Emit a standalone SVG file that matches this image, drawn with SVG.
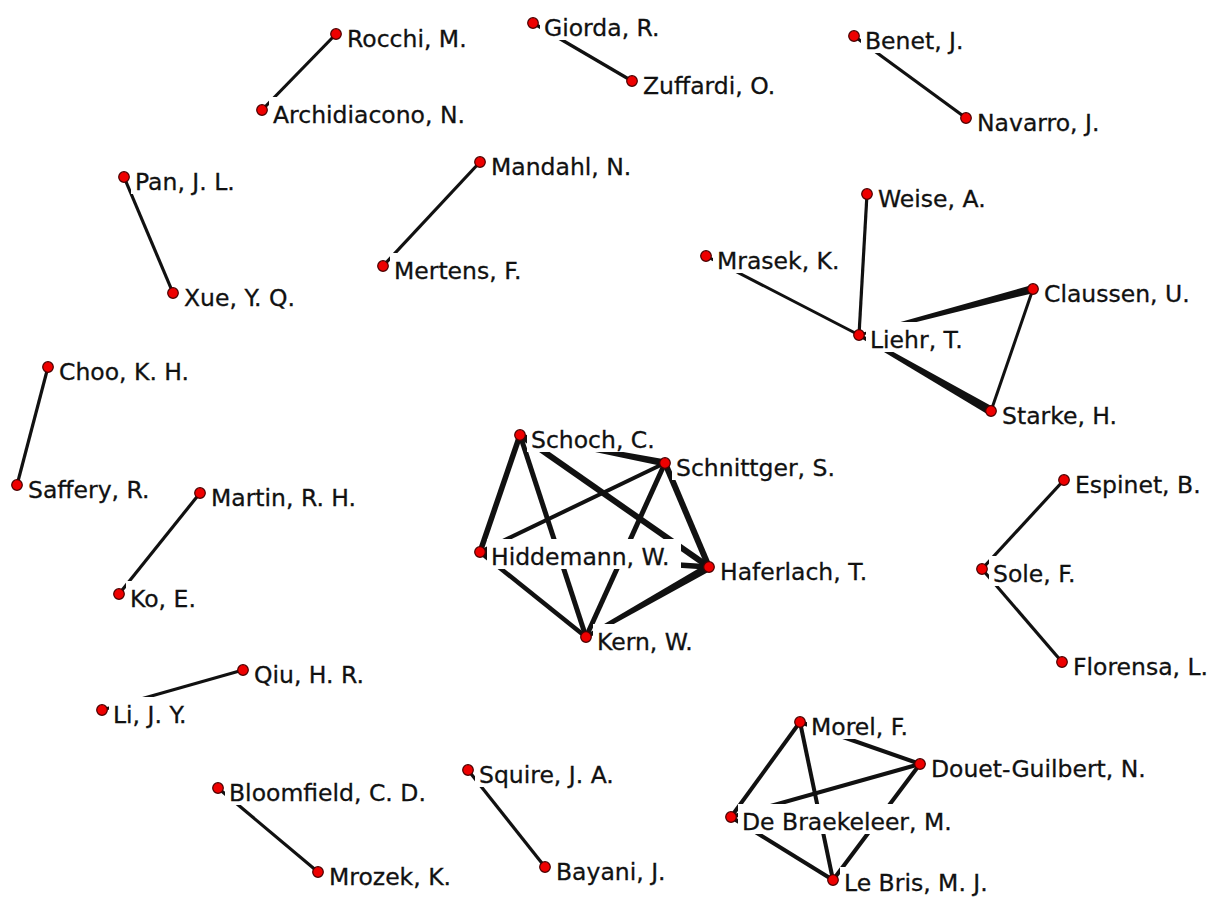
<svg xmlns="http://www.w3.org/2000/svg" width="1219" height="897" viewBox="0 0 1219 897">
<style>
.e{stroke:#111;fill:none;stroke-linecap:butt}
.w{fill:#111;stroke:none}
.lb{fill:#fff}
.t{font-family:"DejaVu Sans",Verdana,sans-serif;font-size:23.5px;fill:#111;stroke:#111;stroke-width:0.3}
.n{fill:#ee0000;stroke:#4a0000;stroke-width:1.2}
</style>
<rect width="1219" height="897" fill="#fff"/>
<g id="connectors">
<line class="e" stroke-width="3.2" x1="336" y1="34" x2="262" y2="110"/>
<line class="e" stroke-width="3.2" x1="533" y1="23" x2="632" y2="81"/>
<line class="e" stroke-width="3.2" x1="854" y1="36" x2="966" y2="118"/>
<line class="e" stroke-width="3.2" x1="124" y1="177" x2="173" y2="293"/>
<line class="e" stroke-width="3.2" x1="480" y1="162" x2="383" y2="266"/>
<line class="e" stroke-width="3.2" x1="48" y1="367" x2="17" y2="485"/>
<line class="e" stroke-width="3.2" x1="200" y1="493" x2="119" y2="594"/>
<line class="e" stroke-width="3.2" x1="243" y1="670" x2="102" y2="710"/>
<line class="e" stroke-width="3.2" x1="218" y1="788" x2="318" y2="872"/>
<line class="e" stroke-width="3.2" x1="468" y1="770" x2="545" y2="867"/>
<line class="e" stroke-width="3.2" x1="1064" y1="480" x2="982" y2="569"/>
<line class="e" stroke-width="3.2" x1="982" y1="569" x2="1062" y2="662"/>
<line class="e" stroke-width="3.2" x1="867" y1="194" x2="859" y2="335"/>
<line class="e" stroke-width="3" x1="706" y1="256" x2="859" y2="335"/>
<line class="e" stroke-width="3" x1="1033" y1="289" x2="991" y2="411"/>
<polygon class="w" points="859.3,336.2 1034,292.9 1032,285.1 858.7,333.8"/>
<polygon class="w" points="858.2,336.5 859.8,333.5 993.2,407.1 988.8,414.9"/>
<polygon class="w" points="519.8,436.2 520.2,433.8 665.7,459.6 664.3,466.4"/>
<line class="e" stroke-width="5.5" x1="520" y1="435" x2="480" y2="552"/>
<line class="e" stroke-width="5" x1="520" y1="435" x2="586" y2="637"/>
<line class="e" stroke-width="6" x1="520" y1="435" x2="709" y2="567"/>
<line class="e" stroke-width="4" x1="665" y1="463" x2="480" y2="552"/>
<line class="e" stroke-width="5" x1="665" y1="463" x2="586" y2="637"/>
<line class="e" stroke-width="6" x1="665" y1="463" x2="709" y2="567"/>
<line class="e" stroke-width="4.5" x1="480" y1="552" x2="586" y2="637"/>
<line class="e" stroke-width="5.5" x1="480" y1="552" x2="709" y2="567"/>
<polygon class="w" points="587,638.7 711,570.5 707,563.5 585,635.3"/>
<line class="e" stroke-width="4" x1="800" y1="722" x2="920" y2="764"/>
<line class="e" stroke-width="4" x1="800" y1="722" x2="731" y2="817"/>
<line class="e" stroke-width="4" x1="800" y1="722" x2="833" y2="880"/>
<line class="e" stroke-width="4" x1="920" y1="764" x2="731" y2="817"/>
<line class="e" stroke-width="4" x1="920" y1="764" x2="833" y2="880"/>
<line class="e" stroke-width="4" x1="731" y1="817" x2="833" y2="880"/>
</g>
<g id="n-rocchi" transform="translate(336,34)"><rect class="lb" x="7" y="-13" width="127" height="30"/><circle class="n" r="5.3"/><text class="t" x="11" y="13">Rocchi, M.</text></g>
<g id="n-archidiacono" transform="translate(262,110)"><rect class="lb" x="7" y="-13" width="199" height="30"/><circle class="n" r="5.3"/><text class="t" x="11" y="13">Archidiacono, N.</text></g>
<g id="n-giorda" transform="translate(533,23)"><rect class="lb" x="7" y="-13" width="123" height="30"/><circle class="n" r="5.3"/><text class="t" x="11" y="13">Giorda, R.</text></g>
<g id="n-zuffardi" transform="translate(632,81)"><rect class="lb" x="7" y="-13" width="140" height="30"/><circle class="n" r="5.3"/><text class="t" x="11" y="13">Zuffardi, O.</text></g>
<g id="n-benet" transform="translate(854,36)"><rect class="lb" x="7" y="-13" width="105" height="30"/><circle class="n" r="5.3"/><text class="t" x="11" y="13">Benet, J.</text></g>
<g id="n-navarro" transform="translate(966,118)"><rect class="lb" x="7" y="-13" width="129" height="30"/><circle class="n" r="5.3"/><text class="t" x="11" y="13">Navarro, J.</text></g>
<g id="n-pan" transform="translate(124,177)"><rect class="lb" x="7" y="-13" width="107" height="30"/><circle class="n" r="5.3"/><text class="t" x="11" y="13">Pan, J. L.</text></g>
<g id="n-xue" transform="translate(173,293)"><rect class="lb" x="7" y="-13" width="122" height="30"/><circle class="n" r="5.3"/><text class="t" x="11" y="13">Xue, Y. Q.</text></g>
<g id="n-mandahl" transform="translate(480,162)"><rect class="lb" x="7" y="-13" width="146" height="30"/><circle class="n" r="5.3"/><text class="t" x="11" y="13">Mandahl, N.</text></g>
<g id="n-mertens" transform="translate(383,266)"><rect class="lb" x="7" y="-13" width="137" height="30"/><circle class="n" r="5.3"/><text class="t" x="11" y="13">Mertens, F.</text></g>
<g id="n-weise" transform="translate(867,194)"><rect class="lb" x="7" y="-13" width="115" height="30"/><circle class="n" r="5.3"/><text class="t" x="11" y="13">Weise, A.</text></g>
<g id="n-mrasek" transform="translate(706,256)"><rect class="lb" x="7" y="-13" width="129" height="30"/><circle class="n" r="5.3"/><text class="t" x="11" y="13">Mrasek, K.</text></g>
<g id="n-claussen" transform="translate(1033,289)"><rect class="lb" x="7" y="-13" width="152" height="30"/><circle class="n" r="5.3"/><text class="t" x="11" y="13">Claussen, U.</text></g>
<g id="n-liehr" transform="translate(859,335)"><rect class="lb" x="7" y="-13" width="101" height="30"/><circle class="n" r="5.3"/><text class="t" x="11" y="13">Liehr, T.</text></g>
<g id="n-starke" transform="translate(991,411)"><rect class="lb" x="7" y="-13" width="122" height="30"/><circle class="n" r="5.3"/><text class="t" x="11" y="13">Starke, H.</text></g>
<g id="n-choo" transform="translate(48,367)"><rect class="lb" x="7" y="-13" width="137" height="30"/><circle class="n" r="5.3"/><text class="t" x="11" y="13">Choo, K. H.</text></g>
<g id="n-saffery" transform="translate(17,485)"><rect class="lb" x="7" y="-13" width="129" height="30"/><circle class="n" r="5.3"/><text class="t" x="11" y="13">Saffery, R.</text></g>
<g id="n-martin" transform="translate(200,493)"><rect class="lb" x="7" y="-13" width="152" height="30"/><circle class="n" r="5.3"/><text class="t" x="11" y="13">Martin, R. H.</text></g>
<g id="n-ko" transform="translate(119,594)"><rect class="lb" x="7" y="-13" width="73" height="30"/><circle class="n" r="5.3"/><text class="t" x="11" y="13">Ko, E.</text></g>
<g id="n-schoch" transform="translate(520,435)"><rect class="lb" x="7" y="-13" width="130" height="30"/><circle class="n" r="5.3"/><text class="t" x="11" y="13">Schoch, C.</text></g>
<g id="n-schnittger" transform="translate(665,463)"><rect class="lb" x="7" y="-13" width="165" height="30"/><circle class="n" r="5.3"/><text class="t" x="11" y="13">Schnittger, S.</text></g>
<g id="n-hiddemann" transform="translate(480,552)"><rect class="lb" x="7" y="-13" width="194" height="30"/><circle class="n" r="5.3"/><text class="t" x="11" y="13">Hiddemann, W.</text></g>
<g id="n-haferlach" transform="translate(709,567)"><rect class="lb" x="7" y="-13" width="156" height="30"/><circle class="n" r="5.3"/><text class="t" x="11" y="13">Haferlach, T.</text></g>
<g id="n-kern" transform="translate(586,637)"><rect class="lb" x="7" y="-13" width="106" height="30"/><circle class="n" r="5.3"/><text class="t" x="11" y="13">Kern, W.</text></g>
<g id="n-espinet" transform="translate(1064,480)"><rect class="lb" x="7" y="-13" width="132" height="30"/><circle class="n" r="5.3"/><text class="t" x="11" y="13">Espinet, B.</text></g>
<g id="n-sole" transform="translate(982,569)"><rect class="lb" x="7" y="-13" width="92" height="30"/><circle class="n" r="5.3"/><text class="t" x="11" y="13">Sole, F.</text></g>
<g id="n-florensa" transform="translate(1062,662)"><rect class="lb" x="7" y="-13" width="142" height="30"/><circle class="n" r="5.3"/><text class="t" x="11" y="13">Florensa, L.</text></g>
<g id="n-qiu" transform="translate(243,670)"><rect class="lb" x="7" y="-13" width="117" height="30"/><circle class="n" r="5.3"/><text class="t" x="11" y="13">Qiu, H. R.</text></g>
<g id="n-li" transform="translate(102,710)"><rect class="lb" x="7" y="-13" width="84" height="30"/><circle class="n" r="5.3"/><text class="t" x="11" y="13">Li, J. Y.</text></g>
<g id="n-morel" transform="translate(800,722)"><rect class="lb" x="7" y="-13" width="107" height="30"/><circle class="n" r="5.3"/><text class="t" x="11" y="13">Morel, F.</text></g>
<g id="n-douet" transform="translate(920,764)"><rect class="lb" x="7" y="-13" width="220" height="30"/><circle class="n" r="5.3"/><text class="t" x="11" y="13">Douet-Guilbert, N.</text></g>
<g id="n-debraekeleer" transform="translate(731,817)"><rect class="lb" x="7" y="-13" width="217" height="30"/><circle class="n" r="5.3"/><text class="t" x="11" y="13">De Braekeleer, M.</text></g>
<g id="n-lebris" transform="translate(833,880)"><rect class="lb" x="7" y="-13" width="150" height="30"/><circle class="n" r="5.3"/><text class="t" x="11" y="11">Le Bris, M. J.</text></g>
<g id="n-bloomfield" transform="translate(218,788)"><rect class="lb" x="7" y="-13" width="203" height="30"/><circle class="n" r="5.3"/><text class="t" x="11" y="13">Bloomfield, C. D.</text></g>
<g id="n-mrozek" transform="translate(318,872)"><rect class="lb" x="7" y="-13" width="129" height="30"/><circle class="n" r="5.3"/><text class="t" x="11" y="13">Mrozek, K.</text></g>
<g id="n-squire" transform="translate(468,770)"><rect class="lb" x="7" y="-13" width="142" height="30"/><circle class="n" r="5.3"/><text class="t" x="11" y="13">Squire, J. A.</text></g>
<g id="n-bayani" transform="translate(545,867)"><rect class="lb" x="7" y="-13" width="116" height="30"/><circle class="n" r="5.3"/><text class="t" x="11" y="13">Bayani, J.</text></g>
</svg>
